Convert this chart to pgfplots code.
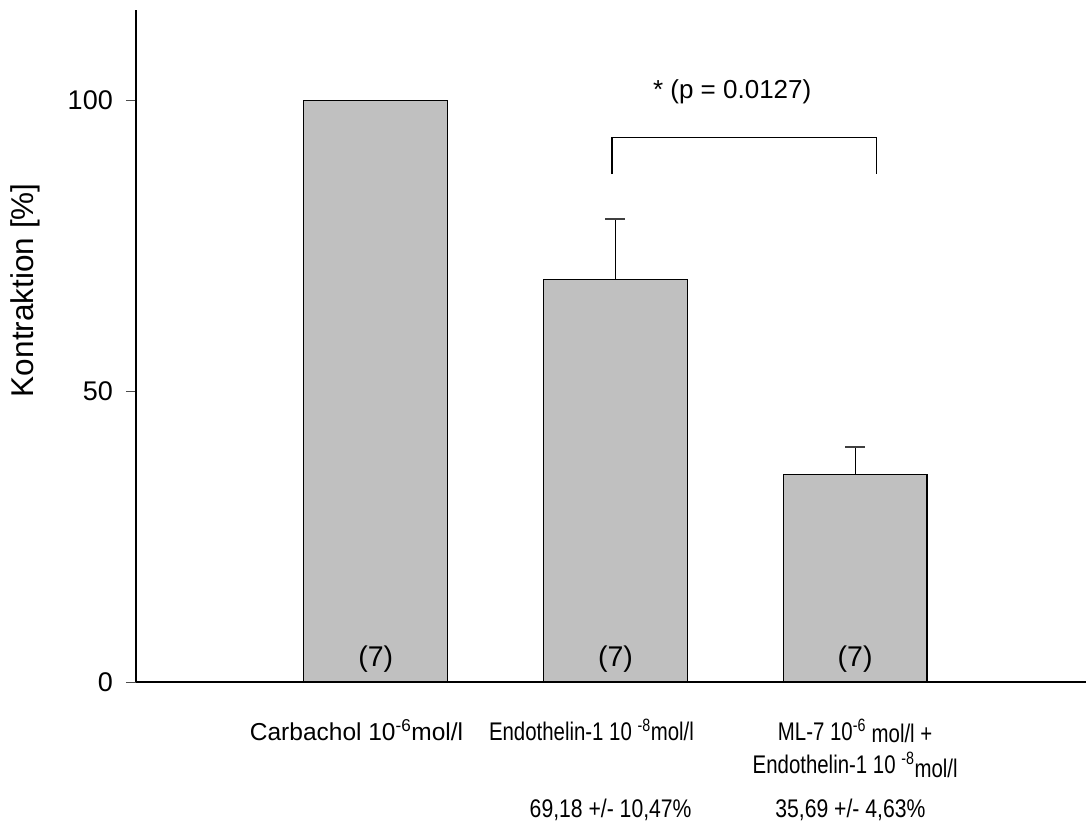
\documentclass[border=0pt]{standalone}
\usepackage{fontspec}
\setmainfont{Liberation Sans}
\newfontfamily\narrowfont{Liberation Sans}[FakeStretch=0.80]
\newfontfamily\valfont{Liberation Sans}[FakeStretch=0.83]
\usepackage{pgfplots}
\pgfplotsset{compat=1.18}
\definecolor{barfill}{HTML}{C0C0C0}
\begin{document}
\begin{tikzpicture}[x=1bp,y=1bp]
\useasboundingbox (-136,-144) rectangle (950,682);
\begin{axis}[
  at={(0,0)}, anchor=south west,
  scale only axis, width=950bp, height=672bp,
  xmin=0, xmax=3.963, ymin=0, ymax=115.5,
  clip=false,
  axis x line*=bottom, axis y line*=left,
  axis line style={-, line width=2.6bp, black},
  xtick={0.92,1.90,3.0},
  xticklabels={{{\fontsize{24.5bp}{33bp}\selectfont\rmfamily Carbachol 10\textsuperscript{-6}mol/l}},{Endothelin-1 10 \textsuperscript{-8}mol/l},{\begin{tabular}[t]{@{}c@{}}ML-7 10\textsuperscript{-6} \raisebox{-2bp}{mol/l +}\\Endothelin-1 10 \textsuperscript{-8}\raisebox{-4bp}{mol/l}\end{tabular}}},
  xticklabel style={font=\fontsize{25.5bp}{33bp}\selectfont\narrowfont, anchor=base, yshift=-48bp},
  x tick style={draw=none},
  ytick={0,50,100},
  tick align=outside,
  major tick length=10bp,
  y tick style={line width=1bp, black!70},
  yticklabel style={font=\fontsize{27bp}{30bp}\selectfont, anchor=east, inner sep=0pt, xshift=-13bp},
  /pgf/number format/assume math mode=true,
  ylabel={Kontraktion [\%]},
  every axis y label/.style={at={(axis description cs:-0.1168,0.583)}, rotate=90, anchor=center, font=\fontsize{31.5bp}{36bp}\selectfont},
  ybar, bar width=0.6,
]
\addplot[ybar, bar shift=0pt, fill=barfill, draw=black, line width=1.3bp]
  table[x=x, y=y] {
x y
1 100
};
\addplot[ybar, bar shift=0pt, fill=barfill, draw=black, line width=1.3bp,
  error bars/.cd, y dir=plus, y explicit,
  error bar style={line width=1.3bp, black},
  error mark options={line width=2bp, black!75, mark size=10bp, rotate=90}]
  table[x=x, y=y, y error=e] {
x y e
2 69.18 10.47
3 35.69 4.63
};
\draw[line width=1.2bp] (axis cs:1.986,87.3) -- (axis cs:1.986,93.6) -- (axis cs:3.088,93.6) -- (axis cs:3.088,87.3);
\node[font=\fontsize{26bp}{30bp}\selectfont, anchor=center] at (axis cs:2.487,101.4) {* (p = 0.0127)};
\node[font=\fontsize{28.5bp}{30bp}\selectfont, anchor=center] at (axis cs:1,4.0) {(7)};
\node[font=\fontsize{28.5bp}{30bp}\selectfont, anchor=center] at (axis cs:2,4.0) {(7)};
\node[font=\fontsize{28.5bp}{30bp}\selectfont, anchor=center] at (axis cs:3,4.0) {(7)};
\node[font=\fontsize{25.5bp}{30bp}\selectfont\valfont, anchor=base] at (axis cs:1.98,-23.3) {69,18 +/- 10,47\%};
\node[font=\fontsize{25.5bp}{30bp}\selectfont\valfont, anchor=base] at (axis cs:2.98,-23.3) {35,69 +/- 4,63\%};
\end{axis}
\end{tikzpicture}
\end{document}
